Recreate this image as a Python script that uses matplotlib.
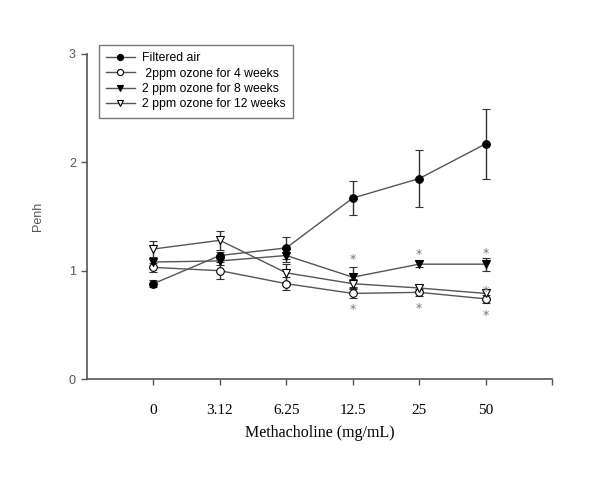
import matplotlib.pyplot as plt
import numpy as np

doses = ['0', '3.12', '6.25', '12.5', '25', '50']

filtered_air = [0.88, 1.14, 1.21, 1.67, 1.85, 2.17]
filtered_air_err = [0.03, 0.03, 0.10, 0.16, 0.26, 0.32]

ozone_4wk = [1.03, 1.00, 0.88, 0.79, 0.80, 0.74]
ozone_4wk_err = [0.04, 0.08, 0.06, 0.04, 0.03, 0.04]

ozone_8wk = [1.08, 1.09, 1.14, 0.94, 1.06, 1.06]
ozone_8wk_err = [0.04, 0.04, 0.06, 0.09, 0.03, 0.06]

ozone_12wk = [1.20, 1.28, 0.98, 0.88, 0.84, 0.79]
ozone_12wk_err = [0.07, 0.09, 0.08, 0.04, 0.03, 0.04]

# significance marks: (dose index, y value)
stars_x = [3, 3, 4, 4, 5, 5, 5]
stars_y = [1.10, 0.64, 1.15, 0.65, 1.16, 0.81, 0.59]

fig = plt.figure(figsize=(6.0, 4.93), dpi=100)
ax = fig.add_axes([0.145, 0.2312, 0.775, 0.6593])

x = np.arange(len(doses))
line_col = '#555555'

series = [
    (filtered_air, filtered_air_err, 'o', 'black', 'Filtered air'),
    (ozone_4wk, ozone_4wk_err, 'o', 'white', ' 2ppm ozone for 4 weeks'),
    (ozone_8wk, ozone_8wk_err, 'v', 'black', '2 ppm ozone for 8 weeks'),
    (ozone_12wk, ozone_12wk_err, 'v', 'white', '2 ppm ozone for 12 weeks'),
]

handles = []
labels = []
for vals, errs, mk, fc, lab in series:
    c = ax.errorbar(x, vals, yerr=errs, color=line_col, lw=1.0, marker=mk,
                    markersize=5.5, markerfacecolor=fc, markeredgecolor='black',
                    markeredgewidth=0.8, ecolor='#333333', elinewidth=1.0,
                    capsize=3, capthick=1.0)
    handles.append(c.lines[0])
    labels.append(lab)

for sx, sy in zip(stars_x, stars_y):
    ax.text(sx, sy, '*', ha='center', va='center', fontsize=9,
            color='#777777', family='DejaVu Sans')

ax.set_xlim(-1, 6)
ax.set_ylim(0, 3)
ax.set_xticks(list(x) + [6])
ax.set_xticklabels(doses + [''], family='Liberation Serif', fontsize=11)
ax.set_yticks([0, 1, 2, 3])
ax.set_yticklabels(['0', '1', '2', '3'], family='Liberation Sans',
                   fontsize=9, color='#555555')
ax.tick_params(axis='x', length=4, width=1, color='#555555', pad=14)
ax.tick_params(axis='y', length=4, width=1, color='#555555', pad=4)

for side in ['top', 'right']:
    ax.spines[side].set_visible(False)
for side in ['left', 'bottom']:
    ax.spines[side].set_color('#555555')
    ax.spines[side].set_linewidth(1.2)

ax.set_xlabel('Methacholine (mg/mL)', family='Liberation Serif',
              fontsize=11.5, labelpad=6)
ax.set_ylabel('Penh', family='Liberation Sans', fontsize=9,
              color='#555555', labelpad=18)

leg = ax.legend(handles, labels, loc='upper left',
                bbox_to_anchor=(0.026, 1.028), borderaxespad=0,
                prop={'family': 'Liberation Sans', 'size': 8.8},
                frameon=True, fancybox=False, edgecolor='#555555',
                handlelength=2.3, handletextpad=0.6, borderpad=0.6,
                labelspacing=0.28, markerscale=0.8)
leg.get_frame().set_linewidth(1.0)

fig.savefig('out.png', dpi=100)
